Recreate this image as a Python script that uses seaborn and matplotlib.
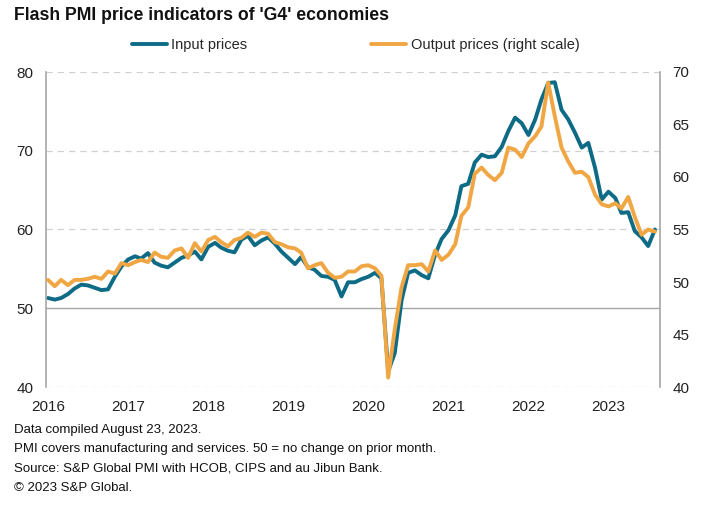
import matplotlib
matplotlib.use("Agg")
import matplotlib.pyplot as plt
import seaborn as sns
import pandas as pd

# Monthly data, Jan 2016 - Aug 2023
input_prices = [
    51.3, 51.1, 51.3, 51.8, 52.5, 53.0, 52.9, 52.6, 52.3, 52.4, 54.0, 55.3,  # 2016
    56.2, 56.6, 56.3, 57.0, 55.8, 55.4, 55.2, 55.8, 56.4, 56.7, 57.2, 56.2,  # 2017
    57.8, 58.3, 57.7, 57.3, 57.1, 58.7, 59.2, 58.0, 58.6, 59.0, 58.2, 57.2,  # 2018
    56.4, 55.6, 56.5, 55.2, 54.9, 54.1, 54.0, 53.6, 51.5, 53.3, 53.3, 53.7,  # 2019
    54.0, 54.5, 53.8, 42.0, 44.3, 51.0, 54.5, 54.8, 54.2, 53.8, 56.8, 58.8,  # 2020
    59.9, 61.8, 65.5, 65.8, 68.5, 69.5, 69.2, 69.3, 70.5, 72.5, 74.2, 73.5,  # 2021
    72.0, 74.0, 76.5, 78.6, 78.7, 75.2, 74.0, 72.3, 70.4, 71.0, 67.8, 63.8,  # 2022
    64.8, 64.0, 62.1, 62.2, 59.8, 59.0, 57.9, 60.0,                          # 2023
]
output_prices = [
    50.2, 49.6, 50.2, 49.7, 50.2, 50.2, 50.3, 50.5, 50.3, 51.0, 50.8, 51.8,  # 2016
    51.6, 51.9, 52.1, 51.9, 52.8, 52.4, 52.3, 53.0, 53.2, 52.3, 53.7, 52.9,  # 2017
    54.0, 54.3, 53.8, 53.4, 54.0, 54.2, 54.7, 54.3, 54.7, 54.6, 53.8, 53.6,  # 2018
    53.3, 53.2, 52.8, 51.3, 51.6, 51.8, 50.9, 50.4, 50.5, 51.0, 51.0, 51.5,  # 2019
    51.6, 51.3, 50.6, 40.9, 45.5, 49.5, 51.6, 51.6, 51.7, 51.0, 53.0, 52.1,  # 2020
    52.6, 53.6, 56.3, 57.1, 60.3, 60.9, 60.2, 59.7, 60.4, 62.8, 62.6, 61.9,  # 2021
    63.2, 63.9, 64.8, 69.0, 65.8, 62.8, 61.5, 60.4, 60.5, 60.0, 58.3, 57.4,  # 2022
    57.2, 57.5, 57.0, 58.1, 56.2, 54.5, 55.0, 54.8,                          # 2023
]
year_labels = ["2016", "2017", "2018", "2019", "2020", "2021", "2022", "2023"]

dates = pd.date_range("2016-01-01", periods=len(input_prices), freq="MS")
df = pd.DataFrame({"date": dates, "input": input_prices, "output": output_prices})

sns.set_theme(style="white")
plt.rcParams["font.family"] = ["Liberation Sans", "DejaVu Sans"]

teal = "#0d6b85"
orange = "#f1a644"
gray = "#a6a6a6"

fig = plt.figure(figsize=(7.11, 5.11), dpi=100)
ax = fig.add_axes([46 / 711, 1 - 387 / 511, (660 - 46) / 711, (387 - 72) / 511])
ax2 = ax.twinx()

sns.lineplot(data=df, x="date", y="input", ax=ax, color=teal, linewidth=2.8,
             label="Input prices", legend=False)
sns.lineplot(data=df, x="date", y="output", ax=ax2, color=orange, linewidth=2.8,
             label="Output prices (right scale)", legend=False)

ax.set_ylim(40, 80)
ax2.set_ylim(40, 70)
ax.set_yticks([40, 50, 60, 70, 80])
ax2.set_yticks([40, 45, 50, 55, 60, 65, 70])

ax.set_xlim(pd.Timestamp("2015-12-23"), pd.Timestamp("2023-08-24"))
ax.set_xticks([pd.Timestamp(f"{y}-01-01") for y in year_labels])
ax.set_xticklabels(year_labels)

for y in [40, 60, 70, 80]:
    ax.axhline(y, color="#d0d0d0", linestyle=(0, (5, 4)), linewidth=0.9, zorder=0)
ax.axhline(50, color=gray, linewidth=1.0, zorder=0)

for a in (ax, ax2):
    for s in a.spines.values():
        s.set_visible(False)
    a.set_xlabel("")
    a.set_ylabel("")
    a.grid(False)
ax.spines["left"].set_visible(True)
ax.spines["left"].set_color(gray)
ax.spines["left"].set_linewidth(1.2)
ax2.spines["right"].set_visible(True)
ax2.spines["right"].set_color(gray)
ax2.spines["right"].set_linewidth(1.2)

ax.tick_params(axis="y", length=0, pad=9, labelsize=11, colors="#222222")
ax2.tick_params(axis="y", length=0, pad=9, labelsize=11, colors="#222222")
ax.tick_params(axis="x", length=0, pad=9, labelsize=11, colors="#222222")

# Legend
h1, l1 = ax.get_legend_handles_labels()
h2, l2 = ax2.get_legend_handles_labels()
fig.legend(h1 + h2, l1 + l2, loc="center", bbox_to_anchor=(0.50, 0.911), ncol=2,
           frameon=False, fontsize=10.5, handlelength=2.4, handletextpad=0.3,
           columnspacing=8.5)

fig.text(14 / 711, 1 - 16 / 511, "Flash PMI price indicators of 'G4' economies",
         fontsize=12.7, fontweight="bold", va="center", ha="left", color="#111111")

notes = [
    "Data compiled August 23, 2023.",
    "PMI covers manufacturing and services. 50 = no change on prior month.",
    "Source: S&P Global PMI with HCOB, CIPS and au Jibun Bank.",
    "\u00a9 2023 S&P Global.",
]
for i, t in enumerate(notes):
    fig.text(14 / 711, 1 - (430 + i * 19.3) / 511, t, fontsize=9.5,
             va="center", ha="left", color="#111111")

fig.savefig("out.png", dpi=100)
